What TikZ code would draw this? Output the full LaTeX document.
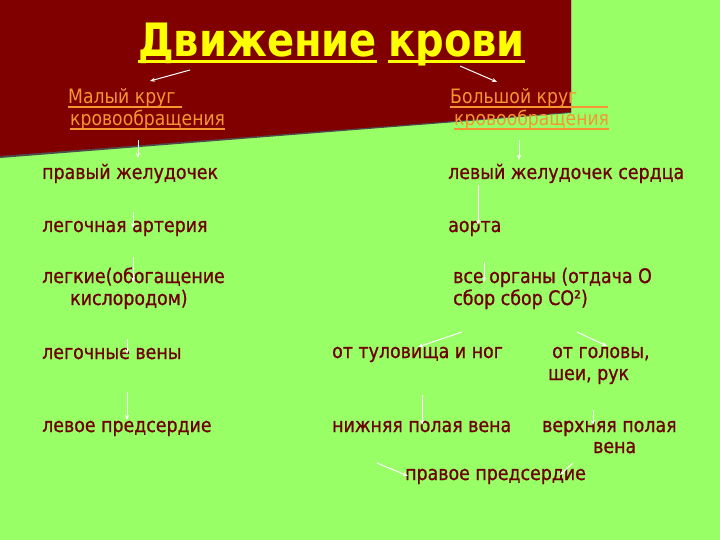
\documentclass[tikz,border=0pt]{standalone}
\usepackage{fontspec}
\setmainfont{DejaVu Sans}[FakeStretch=0.87]
\newfontfamily\bodyfont{DejaVu Sans}[FakeStretch=0.87, FakeBold=0.8]
\usetikzlibrary{arrows.meta}
\definecolor{bggreen}{RGB}{153,255,102}
\definecolor{bandred}{RGB}{128,0,0}
\definecolor{bodyred}{RGB}{110,0,0}
\definecolor{titleyellow}{RGB}{255,255,0}
\definecolor{circorange}{RGB}{245,150,50}
\tikzset{
  body/.style={anchor=base west, inner sep=0pt, text=bodyred, font=\bodyfont\fontsize{20}{24}\selectfont},
  circ/.style={anchor=base west, inner sep=0pt, text=circorange, font=\fontsize{19.8}{24}\selectfont},
  ttl/.style={anchor=base west, inner sep=0pt, text=titleyellow, font=\fontsize{46}{52}\selectfont\bfseries},
  ularrow/.style={draw=white, line width=1pt, -{Stealth[length=5pt,width=4pt]}},
  ulcirc/.style={draw=circorange, line width=1.6pt},
  ultitle/.style={draw=titleyellow, line width=3pt}
}
\begin{document}
\begin{tikzpicture}[x=1pt,y=-1pt]
\useasboundingbox (0,0) rectangle (720,540);
\fill[bggreen] (0,0) rectangle (720,540);
% dark red band with a thin shadow
\fill[black!70] (0,0) -- (571,0) -- (571,113) -- (0,158) -- cycle;
\fill[bandred] (0,0) -- (571,0) -- (571,112) -- (0,156) -- cycle;

% title
\node[ttl] (t1) at (138,57) {Движение};
\node[ttl] (t2) at (388,57) {крови};
\draw[ultitle] ([yshift=-5pt]t1.base west) -- ([yshift=-5pt]t1.base east);
\draw[ultitle] ([yshift=-5pt]t2.base west) -- ([yshift=-5pt]t2.base east);

% circulation headings
\node[circ] (m1) at (68,104) {Малый круг};
\node[circ] (m2) at (70,126) {кровообращения};
\node[circ] (b1) at (450,104) {Большой круг};
\node[circ] (b2) at (454,126) {кровообращения};
\draw[ulcirc] ([yshift=-3pt]m1.base west) -- ++(114,0);
\draw[ulcirc] ([yshift=-3pt]b1.base west) -- ++(158,0);
\foreach \n in {m2,b2}
  \draw[ulcirc] ([yshift=-3pt]\n.base west) -- ([yshift=-3pt]\n.base east);

% left column
\node[body] (rv) at (42,179) {правый желудочек};
\node[body] (pa) at (42,232) {легочная артерия};
\node[body] (lu1) at (42,283) {легкие(обогащение};
\node[body] (lu2) at (70,305) {кислородом)};
\node[body] (pv) at (42,359) {легочные вены};
\node[body] (la) at (42,432) {левое предсердие};

% right column
\node[body] (lv) at (448,179) {левый желудочек сердца};
\node[body] (ao) at (448,232) {аорта};
\node[body] (or1) at (453,283) {все органы (отдача О};
\node[body] (or2) at (453,305) {сбор сбор СО²)};
\node[body] (tl) at (332,358) {от туловища и ног};
\node[body] (hd1) at (552,358) {от головы,};
\node[body] (hd2) at (548,380) {шеи, рук};
\node[body] (ivc) at (332,432) {нижняя полая вена};
\node[body] (svc1) at (542,432) {верхняя полая};
\node[body] (svc2) at (593,453) {вена};
\node[body] (ra) at (405,480) {правое предсердие};

% arrow end points
\coordinate (a1s) at (190,70);  \coordinate (a1e) at (150,81);
\coordinate (a2s) at (460,66);  \coordinate (a2e) at (497,82);
\coordinate (a3s) at (138,140); \coordinate (a3e) at (138,158);
\coordinate (a4s) at (519,140); \coordinate (a4e) at (519,160);
\coordinate (a5s) at (133,212); \coordinate (a5e) at (133,228);
\coordinate (a6s) at (133,257); \coordinate (a6e) at (133,282);
\coordinate (a7s) at (127,339); \coordinate (a7e) at (127,354);
\coordinate (a8s) at (127,392); \coordinate (a8e) at (127,420);
\coordinate (a9s) at (478,185); \coordinate (a9e) at (478,225);
\coordinate (a10s) at (484,262); \coordinate (a10e) at (484,282);
\coordinate (a11s) at (462,332); \coordinate (a11e) at (418,347);
\coordinate (a12s) at (577,332); \coordinate (a12e) at (607,346);
\coordinate (a13s) at (422,395); \coordinate (a13e) at (422,425);
\coordinate (a14s) at (593,410); \coordinate (a14e) at (593,425);
\coordinate (a15s) at (377,463); \coordinate (a15e) at (408,476);
\coordinate (a16s) at (573,463); \coordinate (a16e) at (560,475);
\foreach \i in {1,...,16}
  \draw[ularrow] (a\i s) -- (a\i e);
\end{tikzpicture}
\end{document}
